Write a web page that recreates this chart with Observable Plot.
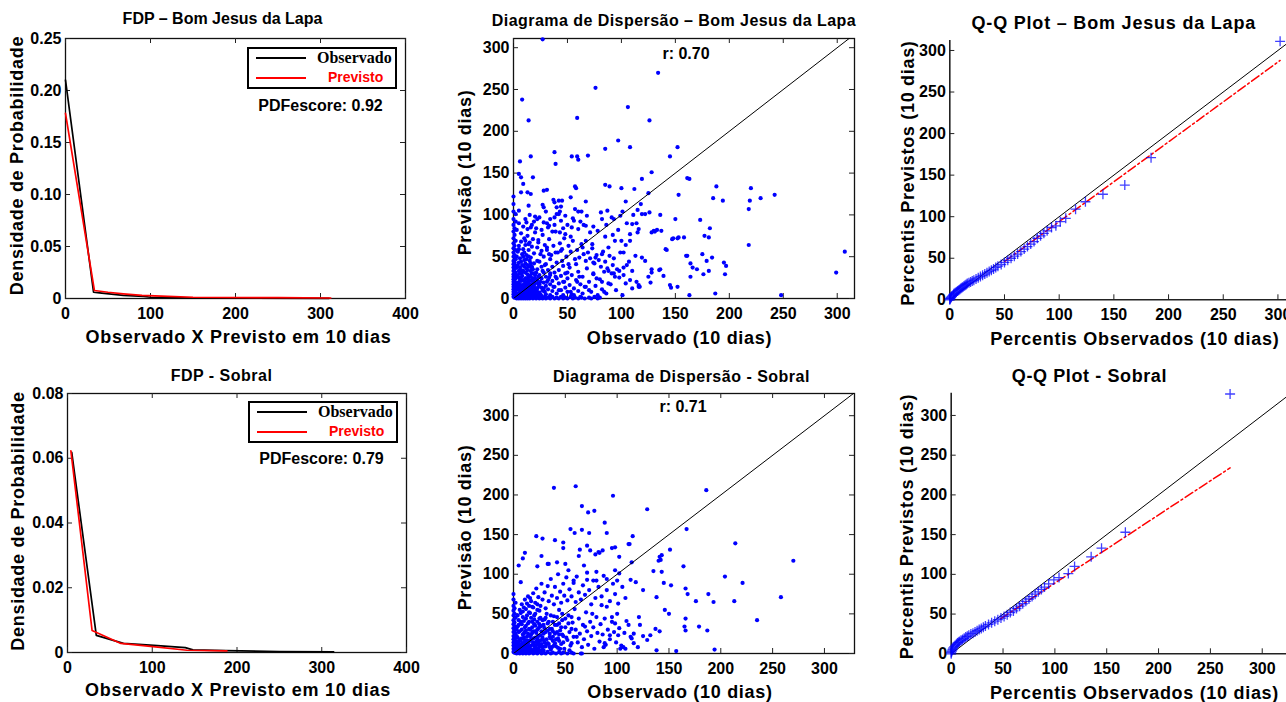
<!DOCTYPE html>
<html><head><meta charset="utf-8">
<script src="https://cdn.jsdelivr.net/npm/d3@7"></script>
<script src="https://cdn.jsdelivr.net/npm/@observablehq/plot@0.6"></script>
<style>
html,body{margin:0;padding:0;background:#fff;}
body{width:1286px;height:702px;overflow:hidden;position:relative;font-family:"Liberation Sans",Arial,Helvetica,sans-serif;}
.panel{position:absolute;}
.panel svg{max-width:none !important;}
.legend{position:absolute;box-sizing:border-box;width:150px;height:42px;border:2px solid #000;background:#fff;}
.legend .sw{position:absolute;left:7px;width:50px;height:2px;}
.legend .lb{position:absolute;font-weight:bold;line-height:1;white-space:nowrap;}
</style></head><body>
<script>
// ---------------- DATA ----------------
const stations = ["Bom Jesus da Lapa", "Sobral"];
const pdfScores = [0.92, 0.79];
const rValues = [0.70, 0.71];

// FDP curves: [valor, densidade]
const pdfObsBJL  = [[0,0.21],[33,0.006],[40,0.0055],[68,0.003],[92,0.002],[100,0.0012],[130,0.0007],[200,0.0004],[310,0.0002]];
const pdfPrevBJL = [[0,0.178],[34,0.0077],[50,0.006],[68,0.0045],[90,0.003],[113,0.0022],[150,0.0012],[250,0.0008],[312,0.0005]];
const pdfObsSOB  = [[5,0.0618],[34,0.0053],[66,0.0028],[102,0.0022],[139,0.0015],[148,0.0008],[187,0.0006],[250,0.0003],[314,0.0002]];
const pdfPrevSOB = [[4,0.0623],[29,0.0068],[63,0.0028],[98,0.0019],[141,0.0007],[188,0.0005]];

// Scatter: [observado, previsto]
const scatterBJL = [
[27,310],[134,270],[76,252],[8,238],[106,229],[14,213],[126,213],[59,216],[97,189],[152,181],[108,181],[85,179],[38,175],[145,170],[16,170],[54,170],[59,170],[60,166],[69,171],[6,164],[39,161],[128,151],[5,149],[7,145],[18,145],[9,137],[161,144],[163,143],[85,136],[89,134],[100,132],[112,131],[119,143],[57,134],[58,132],[28,129],[31,130],[7,127],[13,127],[16,125],[37,118],[38,115],[42,117],[45,117],[44,110],[53,121],[67,116],[104,116],[125,126],[118,113],[188,134],[185,120],[194,117],[220,132],[219,117],[218,107],[229,120],[242,124],[218,64],[307,56],[299,31],[248,4],[187,6],[163,4],[153,124],[136,100],[150,95],[173,94],[182,84],[181,73],[177,75],[158,73],[152,72],[148,72],[133,82],[131,80],[137,81],[141,59],[184,49],[195,43],[197,39],[196,29],[160,51],[164,42],[166,37],[170,35],[176,29],[181,33],[175,53],[179,45],[128,35],[136,35],[139,27],[127,19],[145,16],[152,14],[146,13],[116,16],[117,14],[108,22],[108,69],[114,90],[116,83],[115,79],[115,106],[101,104],[99,99],[111,100],[27,112],[28,109],[14,111],[5,105],[12,91],[16,85],[20,98],[22,95],[31,90],[33,87],[38,97],[42,101],[43,104],[40,101],[57,107],[60,104],[63,104],[68,99],[56,93],[54,85],[48,77],[53,74],[43,79],[67,87],[71,79],[81,103],[87,105],[91,97],[93,95],[110,89],[119,101],[122,101],[126,103],[128,79],[130,81],[147,71],[153,73],[142,58],[105,90],[108,77],[113,51],[119,49],[122,45],[102,55],[94,69],[85,74],[88,61],[82,53],[76,49],[74,43],[67,69],[73,65],[64,61],[98,33],[93,30],[94,26],[102,37],[110,33],[114,20],[116,14],[125,26],[128,31],[135,34],[161,51],[164,26],[59,20],[61,26],[67,14],[70,10],[74,30],[77,24],[82,20],[84,8],[88,33],[88,18],[53,8],[56,4],[50,31],[51,41],[45,45],[39,55],[44,57],[31,61],[33,53],[23,67],[26,57],[11,69],[14,65],[5,59],[10,55],[34,30],[39,26],[47,20],[37,14],[42,10],[23,18],[28,12],[17,37],[22,45],[29,40],
[0,2],[0,5],[0,8],[0,11],[0,14],[0,17],[0,20],[0,23],[0,26],[0,29],[0,33],[0,37],[0,41],[0,45],[0,50],[0,55],[0,60],[0,66],[0,72],[0,80],[0,88],[0,95],[0,104],[0,113],[0,122],[1,3],[1,9],[1,15],[1,21],[1,27],[1,35],[1,43],[1,52],[1,63],[1,76],[1,84],[2,6],[2,12],[2,18],[2,24],[2,31],[2,39],[2,47],[2,58],[2,69],[2,92],[2,101],
[3,0],[5,0],[7,0],[9,0],[11,0],[13,0],[15,0],[18,0],[21,0],[24,0],[27,0],[30,0],[34,0],[38,0],[42,0],[46,0],[50,0],[55,0],[60,0],[66,0],[72,0],[78,0],[4,1],[8,1],[12,1],[16,1],[20,1],[26,1],[32,1],[40,1],[48,1],[57,1],[63,1],[70,1],[80,1],[6,2],[10,2],[14,2],[19,2],[23,2],[29,2],[36,2],[44,2],[53,2],[62,2],[75,2],
[3,3],[4,6],[5,4],[6,9],[7,5],[8,12],[9,7],[10,3],[11,10],[12,15],[13,6],[14,20],[15,9],[16,4],[17,14],[18,24],[19,8],[20,18],[3,14],[4,19],[5,25],[6,30],[7,21],[8,27],[9,33],[10,17],[11,24],[12,36],[13,29],[14,11],[15,27],[16,33],[17,21],[18,13],[19,30],[20,5],[3,37],[4,28],[5,43],[6,16],[7,34],[8,40],[9,22],[10,46],[11,31],[12,8],[13,40],[14,26],[15,45],[16,17],[17,38],[18,6],[19,42],[20,28],[22,4],[22,12],[22,22],[22,35],[24,7],[24,17],[24,28],[24,44],[26,3],[26,13],[26,24],[26,38],[28,9],[28,19],[28,31],[28,50],[30,5],[30,15],[30,26],[30,41],[32,11],[32,22],[32,34],[34,4],[34,17],[34,28],[34,47],[36,9],[36,21],[36,38],[38,14],[38,31],[40,6],[40,24],[40,43],[42,18],[42,34],[44,10],[44,27],[46,4],[46,20],[46,39],[48,13],[48,30],[50,8],[50,24],[52,16],[52,37],[54,5],[54,28],[56,12],[58,22],[58,41],[60,9],[60,32],[62,17],[64,6],[64,26],[66,14],[68,36],[70,20],[72,8],[74,29],[76,15],[78,4],[80,23],[82,11],[84,32],[86,6],[90,17],[92,40],[95,10],[98,25],[101,4],[104,18],[107,44],[110,12],
[3,50],[4,56],[5,63],[6,48],[7,68],[8,53],[9,59],[10,72],[11,64],[12,52],[13,75],[14,58],[15,67],[16,49],[17,62],[18,71],[19,54],[20,79],[22,61],[23,70],[25,53],[27,76],[29,64],[31,58],[33,71],[35,52],[37,63],[39,80],[41,55],[43,66],[45,59],[47,72],[49,50],[51,63],[53,56],[55,69],[57,47],[59,58],[61,49],[63,65],[65,53],[67,45],[69,55],[71,48],[73,60],[75,42],[77,52],[79,46],[81,38],[83,56],[85,44],[87,36],[89,51],[91,30],[93,48],[96,35],[99,55],[102,28],[105,40],
[3,82],[5,90],[7,78],[9,86],[11,95],[13,83],[15,100],[17,88],[19,92],[21,84],[24,97],[26,82],[28,91],[30,104],[32,85],[34,95],[36,80],[38,88],[40,109],[44,93],[46,84],[48,99],[50,88],[55,96],[60,83],[62,92],[65,88],[74,86],[78,81],[82,95],[86,88],[92,76],[97,82],[100,69],[104,64],
[1,1],[2,2],[3,1],[4,3],[5,2],[6,5],[7,3],[8,6],[9,2],[10,8],[11,4],[12,11],[13,2],[14,7],[15,14],[16,10],[17,3],[18,17],[19,11],[20,2],[21,9],[2,9],[3,11],[4,15],[5,18],[6,22],[7,25],[8,9],[9,14],[10,21],[11,18],[12,24],[13,13],[14,16],[15,22],[16,26],[17,30],[18,35],[19,20],[20,24],[21,31],[23,26],[25,20],[27,33],[29,8],[31,20],[33,25],[3,26],[4,40],[5,33],[6,37],[7,44],[8,31],[9,50],[10,38],[11,42],[12,47],[13,34],[14,50],[15,38],[16,42],[3,6],[4,4],[5,11],[6,13],[7,8],[8,16],[9,10],[10,12],[11,7],[12,19],[13,23],[14,4],[15,6],[16,12],[17,7],[18,9],[19,15],[20,12],[22,8],[23,14],[25,5],[27,10]
];

const scatterSOB = [
[39,209],[60,211],[96,199],[186,206],[66,186],[72,178],[78,180],[129,182],[88,165],[22,148],[28,145],[40,143],[48,140],[48,133],[55,157],[59,152],[66,156],[73,152],[90,152],[83,127],[86,130],[79,125],[95,133],[102,122],[112,138],[115,148],[114,115],[151,131],[167,157],[11,127],[9,120],[27,123],[33,113],[50,113],[64,131],[63,123],[53,105],[58,92],[68,111],[71,93],[80,103],[80,92],[90,94],[98,105],[102,101],[100,92],[113,93],[118,90],[125,80],[135,104],[142,118],[141,122],[143,103],[145,89],[152,86],[164,110],[166,82],[168,75],[176,66],[188,75],[193,65],[204,97],[214,139],[221,89],[213,66],[235,42],[258,71],[270,117],[179,34],[187,29],[165,34],[166,29],[166,44],[157,3],[138,4],[194,5],[150,50],[146,55],[138,71],[137,31],[141,28],[132,23],[129,17],[121,46],[122,36],[116,25],[114,19],[106,8],[103,6],[113,21],[111,36],[101,23],[98,38],[93,23],[88,13],[87,8],[90,59],[95,46],[85,61],[76,50],[69,34],[61,21],[56,13],[66,0],
[5,111],[7,90],[23,110],[34,113],[42,115],[71,136],[74,130],[82,128],[98,134],[111,138],[140,117],[143,124],[125,22],[116,13],[120,8],[108,6],
[0,2],[0,6],[0,10],[0,14],[0,18],[0,22],[0,27],[0,32],[0,37],[0,42],[0,48],[0,54],[0,60],[0,68],[0,75],[1,4],[1,12],[1,20],[1,29],[1,39],[1,50],[1,57],[2,8],[2,16],[2,25],[2,34],[2,45],[2,64],
[3,0],[6,0],[9,0],[12,0],[15,0],[19,0],[23,0],[27,0],[31,0],[36,0],[41,0],[46,0],[52,0],[58,0],[65,0],[5,1],[10,1],[16,1],[21,1],[29,1],[38,1],[48,1],[56,1],[8,2],[13,2],[25,2],[33,2],[44,2],
[3,4],[4,9],[5,15],[6,3],[7,11],[8,19],[9,6],[10,25],[11,14],[12,4],[13,21],[14,9],[15,31],[16,16],[17,5],[18,26],[19,12],[20,37],[21,20],[22,7],[23,30],[24,14],[25,44],[26,23],[27,4],[28,35],[29,17],[30,9],[31,27],[32,50],[33,13],[34,40],[35,21],[36,5],[37,31],[38,16],[39,47],[40,25],[41,9],[42,36],[43,19],[44,55],[45,29],[46,12],[47,42],[48,22],[49,6],[50,33],[52,17],[53,48],[54,27],[55,10],[57,39],[58,21],[59,56],[60,30],[62,14],[63,44],[64,25],[66,8],[67,36],[68,18],[70,52],[71,28],[72,11],[74,40],[75,22],[77,33],[78,6],[80,46],[81,26],[83,15],[84,37],[86,24],[88,44],[89,11],[91,30],[93,18],[95,40],[97,27],[99,14],[100,50],[102,32],[104,10],[107,26],[109,41],
[3,22],[4,34],[5,42],[6,28],[7,51],[8,37],[9,46],[10,58],[11,33],[12,44],[13,63],[14,38],[15,52],[16,70],[17,45],[18,59],[19,76],[20,48],[21,64],[22,82],[23,55],[24,71],[26,60],[27,88],[28,68],[30,77],[31,57],[33,85],[34,66],[36,94],[37,73],[39,62],[40,84],[42,70],[43,100],[45,78],[46,64],[48,88],[49,73],[51,96],[52,67],[54,81],[56,72],[58,89],[60,65],[61,97],[63,77],[65,68],[67,86],[69,74],[71,102],[73,80],[75,62],[77,92],[79,70],[82,84],[85,72],[87,98],[90,80],[93,66],[96,88],[98,75],[101,63],[105,84],[108,70],
[2,3],[3,8],[4,13],[5,6],[6,18],[7,2],[8,10],[9,24],[10,5],[11,17],[12,29],[13,8],[14,13],[15,3],[16,22],[17,10],[18,40],[19,19],[20,6],[21,28],[22,15],[23,4],[24,22],[25,10],[26,34],[27,17],[28,8],[29,25],[30,43],[32,12],[33,29],[35,8],[36,19],[38,28],[39,10],[41,18],[43,7],[44,24],[46,33],[48,14],[51,20],[54,4],[56,31],
[1,1],[2,1],[3,2],[4,2],[5,3],[6,6],[7,4],[8,7],[9,3],[10,9],[11,6],[12,11],[13,4],[14,16],[15,7],[16,9],[17,18],[18,3],[19,14],[20,10],[21,4],[22,11],[23,19],[24,6],[25,16],[26,9],[27,12],[28,20],[29,4],[30,14],[31,9],[32,18],[34,12],[35,25],[37,8],[38,21],[40,13],[42,27],[44,16],[45,6],[47,24],[3,12],[4,20],[5,27],[6,10],[7,16],[8,30],[9,13],[10,20],[11,27],[12,35],[13,16],[14,25],[15,40],[16,30],[17,24],[18,33],[19,28],[20,43],[21,35],[22,26],[23,40],[24,32],[25,37],[26,45],[27,28],[28,42],[29,36],[30,32],[31,45],[33,38],[35,31],[36,48],[38,40],[40,36],[42,46],[44,38],[47,50],[50,44],[53,38],[56,46],[3,30],[4,48],[5,36],[6,55],[7,40],[8,62],[9,53],[10,41],[11,68],[12,56],[13,48],[14,72],[15,60],[16,51],[17,66],[19,58],[21,50],[23,62],[25,54]
];

// Q-Q: [percentil observado, percentil previsto]
const qqBJL = [[0,0],[0,1],[0.5,1.5],[1,2.5],[1.5,3.5],[2,4.5],[3,5.5],[3.5,6.5],[4,7.5],[5,8.5],[6,9.5],[7,10.5],[8,11.5],[9,12.5],[10,13.5],[11,14.5],[12,15.5],[13,16.5],[14,17.5],[15,18.5],[16,19.5],[17.5,20.5],[19,21.5],[20.5,22.5],[22,23.5],[24,25],[26,26.5],[28,28],[30,29.5],[32,31],[34,32.5],[36,34],[38,35.5],[40,37],[42,39],[44,40.5],[47,42.5],[50,45],[53,47.5],[56,50],[59,52.5],[62,55],[65,58],[68,61],[71,64],[74,67],[77,70],[80,74],[83,77],[86,80],[89,83],[93,87],[97,89],[101,94],[106,98],[115,109],[124,118],[140,127],[160,138],[184,171],[302,311]];
const qqSOB = [[0,0],[0,1.5],[0.5,3],[1,4.5],[1.5,6],[2,7.5],[3,9],[4,10.5],[5,12],[6,13.5],[7,14.5],[8,15.5],[9.5,17],[11,18],[12.5,19.5],[14,21],[15.5,22],[17,23.5],[19,25],[21,26],[23,27.5],[25,29],[27,30.5],[29,32],[31,33.5],[33,35],[36,37],[39,39],[42,41],[45,43],[48,45],[51,47],[54,49],[57,52],[60,54],[63,57],[66,60],[69,63],[72,66],[75,69],[78,72],[81,75],[84,78],[87,81],[90,84],[94,88],[99,93],[104,96],[113,101],[119,110],[135,122],[145,133],[168,153],[269,327]];
// reference fit lines (dash-dot)
const qqFitBJL = [[50,46],[302,288]];
const qqFitSOB = [[47.6,44],[269,234]];

const xTicksPdf = [0,100,200,300,400];
const yTicksPdfBJL = [0,0.05,0.10,0.15,0.20,0.25];
const yTicksPdfSOB = [0,0.02,0.04,0.06,0.08];
const ticks300 = [0,50,100,150,200,250,300];

const titles = ["FDP \u2013 Bom Jesus da Lapa","Diagrama de Dispers\u00e3o \u2013 Bom Jesus da Lapa","Q-Q Plot \u2013 Bom Jesus da Lapa","FDP - Sobral","Diagrama de Dispers\u00e3o - Sobral","Q-Q Plot - Sobral"];
const xLabels = ["Observado X Previsto em 10 dias","Observado (10 dias)","Percentis Observados (10 dias)"];
const yLabels = ["Densidade de Probabilidade","Previs\u00e3o (10 dias)","Percentis Previstos (10 dias)"];
const legendLabels = ["Observado","Previsto"];

// ---------------- RENDER ----------------
const FONT = '"Liberation Sans", Arial, Helvetica, sans-serif';
const BLUE = "#0000ff", RED = "#ff0000";
const plusSym = {draw(ctx, size){const r = Math.sqrt(size/Math.PI); ctx.moveTo(-r,0); ctx.lineTo(r,0); ctx.moveTo(0,-r); ctx.lineTo(0,r);}};

function panel(c) {
  const iw = c.width - c.ml - c.mr, ih = c.height - c.mt - c.mb, tl = 5;
  const marks = [];
  if (c.box) marks.push(Plot.frame({stroke: "#111", strokeWidth: 1.3}));
  else marks.push(Plot.ruleX([c.xDomain[0]], {stroke: "#222", strokeWidth: 1.6}), Plot.ruleY([c.yDomain[0]], {stroke: "#222", strokeWidth: 1.6}));
  marks.push(
    Plot.tickX(c.xTicks, {x: d => d, insetTop: ih - tl, stroke: "#222"}),
    Plot.tickY(c.yTicks, {y: d => d, insetRight: iw - tl, stroke: "#222"})
  );
  if (c.box) marks.push(
    Plot.tickX(c.xTicks, {x: d => d, insetBottom: ih - tl, stroke: "#222"}),
    Plot.tickY(c.yTicks, {y: d => d, insetLeft: iw - tl, stroke: "#222"})
  );
  marks.push(
    Plot.axisX(c.xTicks, {tickSize: 0, tickPadding: 9, fontSize: 16, fontWeight: "bold", label: null, tickFormat: d => String(d)}),
    Plot.axisY(c.yTicks, {tickSize: 0, tickPadding: 4, fontSize: 16, fontWeight: "bold", label: null, tickFormat: c.yFmt || (d => String(d))}),
    ...c.marks,
    Plot.text([c.title], {text: d => d, frameAnchor: "top", textAnchor: "middle", lineAnchor: "middle", dx: c.tdx, dy: c.tdy, fontSize: c.tSize, fontWeight: "bold"}),
    Plot.text([c.xLab], {text: d => d, frameAnchor: "bottom", textAnchor: "middle", lineAnchor: "middle", dx: c.xdx, dy: c.xdy, fontSize: 18, fontWeight: "bold"}),
    Plot.text([c.yLab], {text: d => d, frameAnchor: "left", textAnchor: "middle", lineAnchor: "middle", rotate: -90, dx: c.ydx, dy: c.ydy, fontSize: 18, fontWeight: "bold"})
  );
  const svg = Plot.plot({
    width: c.width, height: c.height,
    marginLeft: c.ml, marginRight: c.mr, marginTop: c.mt, marginBottom: c.mb,
    x: {domain: c.xDomain}, y: {domain: c.yDomain},
    style: {fontFamily: FONT, color: "#000", background: "transparent", overflow: "visible"},
    marks
  });
  svg.style.maxWidth = "none";
  svg.style.width = c.width + "px";
  svg.style.height = c.height + "px";
  d3.select(svg).selectAll("text").each(function() {
    const t = this.textContent;
    if (t === c.xLab || t === c.yLab) this.style.letterSpacing = "0.7px";
    if (t === c.title) this.style.letterSpacing = c.tSpace + "px";
  });
  const div = document.createElement("div");
  div.className = "panel";
  div.style.left = c.left + "px"; div.style.top = c.top + "px";
  div.style.width = c.width + "px"; div.style.height = c.height + "px";
  div.appendChild(svg);
  document.body.appendChild(div);
}

const fmt2 = d => d === 0 ? "0" : d.toFixed(2);
const line = (data, stroke, extra = {}) => Plot.line(data, {x: d => d[0], y: d => d[1], stroke, strokeWidth: 1.7, ...extra});
const diag = dom => Plot.line([0, dom[1]], {x: d => d, y: d => d, stroke: "#000", strokeWidth: 1, clip: true});
const note = (value, fmt, anchor, dx, dy) => Plot.text([value], {text: fmt, frameAnchor: anchor, textAnchor: "middle", lineAnchor: "middle", dx, dy, fontSize: 16, fontWeight: "bold"});
const scatter = data => Plot.dot(data, {x: d => d[0], y: d => d[1], r: 2.1, fill: BLUE});
const qqDots = data => Plot.dot(data, {x: d => d[0], y: d => d[1], symbol: plusSym, r: 5, stroke: BLUE, strokeWidth: 1.3, strokeOpacity: 0.75, fill: "none"});

// Row 1
panel({left: 0, top: 0, width: 430, height: 351, ml: 65, mr: 25, mt: 38, mb: 53,
  xDomain: [0,400], yDomain: [0,0.25], xTicks: xTicksPdf, yTicks: yTicksPdfBJL, yFmt: fmt2, box: true,
  title: titles[0], tSize: 16, tSpace: 0, tdx: -13, tdy: -20,
  xLab: xLabels[0], xdx: 3, xdy: 39, yLab: yLabels[0], ydx: -48, ydy: -3,
  marks: [line(pdfObsBJL, "#000"), line(pdfPrevBJL, RED),
    note(pdfScores[0], d => `PDFescore: ${d.toFixed(2)}`, "top-right", -85, 67)]});

const domS1 = [0,316];
panel({left: 430, top: 0, width: 430, height: 351, ml: 83, mr: 6, mt: 38, mb: 53,
  xDomain: domS1, yDomain: [0,311], xTicks: ticks300, yTicks: ticks300, box: true,
  title: titles[1], tSize: 16, tSpace: 0.45, tdx: -10, tdy: -18,
  xLab: xLabels[1], xdx: -4.5, xdy: 40, yLab: yLabels[1], ydx: -48, ydy: 4,
  marks: [scatter(scatterBJL), diag(domS1),
    note(rValues[0], d => `r: ${d.toFixed(2)}`, "top", 2, 15)]});

const domQ1 = [0,320];
panel({left: 860, top: 0, width: 450, height: 351, ml: 89.3, mr: 10.7, mt: 40, mb: 51.7,
  xDomain: domQ1, yDomain: [0,312], xTicks: ticks300, yTicks: ticks300, box: false,
  title: titles[2], tSize: 18, tSpace: 0.8, tdx: -11, tdy: -17,
  xLab: xLabels[2], xdx: 10, xdy: 39, yLab: yLabels[2], ydx: -42, ydy: 3,
  marks: [diag(domQ1), line(qqFitBJL, RED, {strokeWidth: 1.5, strokeDasharray: "9,3,2,3"}), qqDots(qqBJL)]});

// Row 2
panel({left: 0, top: 351, width: 430, height: 351, ml: 67, mr: 24, mt: 42, mb: 50,
  xDomain: [0,400], yDomain: [0,0.08], xTicks: xTicksPdf, yTicks: yTicksPdfSOB, yFmt: fmt2, box: true,
  title: titles[3], tSize: 16, tSpace: 0.5, tdx: -15.5, tdy: -18,
  xLab: xLabels[0], xdx: 1, xdy: 38, yLab: yLabels[0], ydx: -49, ydy: -2,
  marks: [line(pdfObsSOB, "#000"), line(pdfPrevSOB, RED),
    note(pdfScores[1], d => `PDFescore: ${d.toFixed(2)}`, "top-right", -85, 65)]});

const domS2 = [0,329];
panel({left: 430, top: 351, width: 430, height: 351, ml: 83, mr: 6, mt: 42, mb: 49,
  xDomain: domS2, yDomain: [0,328], xTicks: ticks300, yTicks: ticks300, box: true,
  title: titles[4], tSize: 16, tSpace: 0.5, tdx: -2.5, tdy: -17,
  xLab: xLabels[1], xdx: -4, xdy: 39, yLab: yLabels[1], ydx: -48, ydy: 4,
  marks: [scatter(scatterSOB), diag(domS2),
    note(rValues[1], d => `r: ${d.toFixed(2)}`, "top", -1, 13)]});

const domQ2 = [0,340];
panel({left: 860, top: 351, width: 450, height: 351, ml: 90.7, mr: 6.8, mt: 41.7, mb: 48.7,
  xDomain: domQ2, yDomain: [0,328], xTicks: ticks300, yTicks: ticks300, box: false,
  title: titles[5], tSize: 18, tSpace: 0.6, tdx: -38, tdy: -17,
  xLab: xLabels[2], xdx: 7, xdy: 39, yLab: yLabels[2], ydx: -44, ydy: 3,
  marks: [diag(domQ2), line(qqFitSOB, RED, {strokeWidth: 1.5, strokeDasharray: "9,3,2,3"}), qqDots(qqSOB)]});

// Legends (HTML, over the FDP panels)
function legend(left, top) {
  const box = document.createElement("div");
  box.className = "legend";
  box.style.left = left + "px"; box.style.top = top + "px";
  box.innerHTML =
    `<div class="sw" style="top:8px;background:#000"></div>` +
    `<div class="lb" style="left:68px;top:1px;font-family:'Liberation Serif',serif;font-size:16px;color:#000">${legendLabels[0]}</div>` +
    `<div class="sw" style="top:28px;background:${RED}"></div>` +
    `<div class="lb" style="left:79px;top:21px;font-size:14px;color:${RED}">${legendLabels[1]}</div>`;
  document.body.appendChild(box);
}
legend(247, 47);
legend(248, 401);
</script>
</body></html>
